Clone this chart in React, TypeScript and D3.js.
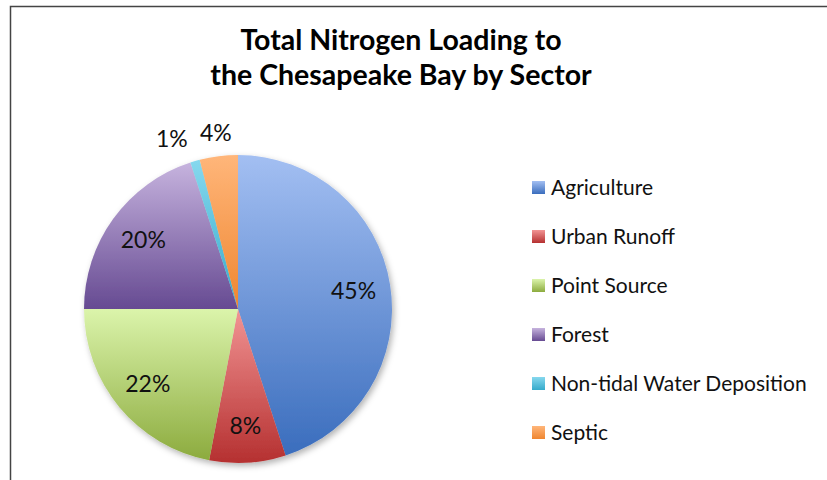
import React, { useEffect, useRef } from 'react';
import * as d3 from 'd3';

const categories = ['Agriculture', 'Urban Runoff', 'Point Source', 'Forest', 'Non-tidal Water Deposition', 'Septic'];
const values = [45, 8, 22, 20, 1, 4];
const lightColors = ['#a3bff2', '#f29494', '#dbf4ab', '#c6b3de', '#86d8ee', '#ffb67a'];
const darkColors = ['#3a6dbd', '#b53030', '#8cab3e', '#664a92', '#35aacb', '#ef8630'];
const titleLines = ['Total Nitrogen Loading to', 'the Chesapeake Bay by Sector'];

const W = 827;
const H = 480;

export default function App() {
  const ref = useRef<SVGSVGElement>(null);

  useEffect(() => {
    document.body.style.margin = '0';
    const svg = d3.select(ref.current);
    svg.selectAll('*').remove();

    const cx = 238, cy = 309, r = 154;
    const font = 'Lato, "Open Sans", sans-serif';

    // chart frame (left and top edges visible)
    svg.append('rect')
      .attr('x', 10.5).attr('y', 6.5)
      .attr('width', W + 20).attr('height', H + 20)
      .attr('fill', 'white').attr('stroke', '#444').attr('stroke-width', 1.5);

    const defs = svg.append('defs');
    categories.forEach((c, i) => {
      const g = defs.append('linearGradient')
        .attr('id', 'grad' + i)
        .attr('x1', 0).attr('y1', 0).attr('x2', 0).attr('y2', 1);
      g.append('stop').attr('offset', '0%').attr('stop-color', lightColors[i]);
      g.append('stop').attr('offset', '100%').attr('stop-color', darkColors[i]);
    });
    const f = defs.append('filter').attr('id', 'shadow')
      .attr('x', '-20%').attr('y', '-20%').attr('width', '140%').attr('height', '140%');
    f.append('feDropShadow').attr('dx', 2).attr('dy', 3).attr('stdDeviation', 3)
      .attr('flood-color', '#000').attr('flood-opacity', 0.3);

    svg.append('g')
      .selectAll('text')
      .data(titleLines)
      .enter()
      .append('text')
      .attr('x', 401)
      .attr('y', (d, i) => 50 + i * 35)
      .attr('text-anchor', 'middle')
      .attr('font-family', font)
      .attr('font-weight', 'bold')
      .attr('font-size', 28.5)
      .attr('fill', '#000')
      .text(d => d);

    const pie = d3.pie<number>().sort(null).value(d => d);
    const arcs = pie(values);
    const arc = d3.arc<d3.PieArcDatum<number>>().innerRadius(0).outerRadius(r);

    const pg = svg.append('g').attr('transform', `translate(${cx},${cy})`);
    pg.append('g').attr('filter', 'url(#shadow)')
      .selectAll('path')
      .data(arcs)
      .enter()
      .append('path')
      .attr('d', arc)
      .attr('fill', (d, i) => `url(#grad${i})`);

    // label positions
    const labels = arcs.map((d, i) => {
      const mid = (d.startAngle + d.endAngle) / 2;
      const small = d.endAngle - d.startAngle < 0.3;
      const rr = small ? r * 1.15 : r * 0.76;
      return { text: values[i] + '%', x: Math.sin(mid) * rr, y: -Math.cos(mid) * rr, small };
    });
    // push apart overlapping outside labels
    const outside = labels.filter(l => l.small);
    for (let k = outside.length - 2; k >= 0; k--) {
      const a = outside[k], b = outside[k + 1];
      if (b.x - a.x < 44) a.x = b.x - 44;
    }

    pg.append('g')
      .selectAll('text')
      .data(labels)
      .enter()
      .append('text')
      .attr('x', d => d.x)
      .attr('y', d => d.y)
      .attr('dy', '0.35em')
      .attr('text-anchor', 'middle')
      .attr('font-family', font)
      .attr('font-size', 23)
      .attr('fill', '#111')
      .text(d => d.text);

    const y = d3.scalePoint<string>().domain(categories).range([188, 433]);
    const lg = svg.append('g');
    const item = lg.selectAll('g').data(categories).enter().append('g')
      .attr('transform', d => `translate(532,${y(d)})`);
    item.append('rect')
      .attr('x', 0).attr('y', -7)
      .attr('width', 13).attr('height', 13)
      .attr('fill', (d, i) => `url(#grad${i})`);
    item.append('text')
      .attr('x', 19)
      .attr('dy', '0.35em')
      .attr('font-family', font)
      .attr('font-size', 21)
      .attr('fill', '#111')
      .text(d => d);
  }, []);

  return <svg ref={ref} width={W} height={H} style={{ display: 'block' }} />;
}
